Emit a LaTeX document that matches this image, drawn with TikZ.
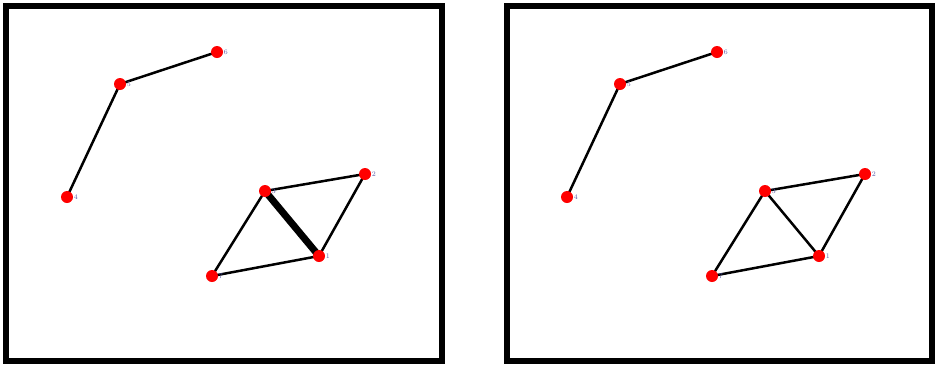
\documentclass[tikz,border=0pt]{standalone}
\usepackage{tikz}

\begin{document}
\begin{tikzpicture}[
    x=1pt, y=-1pt,
    % Réglages des sommets et des arêtes
    vertex/.style={circle, fill=red, inner sep=0pt, minimum size=12pt},
    lbl/.style={font=\fontsize{7}{7}\selectfont, text=gray!70!blue, inner sep=0.5pt},
    edge/.style={draw, line width=2.5pt},
    heavy/.style={draw, line width=7pt},
    frame/.style={draw, line width=5.5pt}
]
\useasboundingbox (0,0) rectangle (936,365);
% Cadres
\draw[frame] (6,6) rectangle (442,361);
\draw[frame] (507,6) rectangle (932,361);
% Graphe de gauche
\coordinate (a6) at (217,52);
\coordinate (a5) at (120,84);
\coordinate (a4) at (67,197);
\coordinate (a3) at (265,191);
\coordinate (a2) at (365,174);
\coordinate (a1) at (319,256);
\coordinate (a7) at (212,276);
\path[edge] (a4) -- (a5) -- (a6);
\path[edge] (a3) -- (a2) -- (a1) -- (a7) -- (a3);
\path[heavy] (a3) -- (a1);
% Graphe de droite
\coordinate (b6) at (717,52);
\coordinate (b5) at (620,84);
\coordinate (b4) at (567,197);
\coordinate (b3) at (765,191);
\coordinate (b2) at (865,174);
\coordinate (b1) at (819,256);
\coordinate (b7) at (712,276);
\path[edge] (b4) -- (b5) -- (b6);
\path[edge] (b3) -- (b2) -- (b1) -- (b7) -- (b3);
\path[edge] (b3) -- (b1);
% Sommets par-dessus les arêtes
\foreach \g in {a,b}
    \foreach \n in {1,...,7}
        \node[vertex, label={[lbl]right:\n}] (\g\n v) at (\g\n) {};
\end{tikzpicture}
\end{document}
